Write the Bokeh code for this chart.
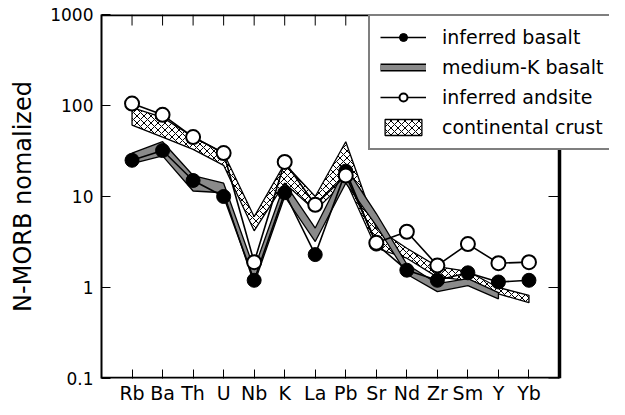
import math
from bokeh.plotting import figure
from bokeh.models import (Range1d, FixedTicker, Legend, LegendItem,
                          ColumnDataSource, CustomJSTickFormatter)
from bokeh.embed import file_html
from bokeh.resources import INLINE

elements = ["Rb", "Ba", "Th", "U", "Nb", "K", "La", "Pb", "Sr", "Nd", "Zr", "Sm", "Y", "Yb"]
basalt = [25, 32, 15, 10, 1.2, 11, 2.3, 19, 3.0, 1.55, 1.2, 1.45, 1.15, 1.2]
andesite = [105, 79, 45, 30, 1.9, 24, 8.1, 17, 3.1, 4.1, 1.75, 3.0, 1.85, 1.9]
# medium-K basalt band (Rb..Y)
medk_lo = [23, 28, 11.5, 11, 1.1, 10, 3.2, 14, 4.8, 1.4, 0.9, 1.05, 0.75]
medk_hi = [30, 40, 17, 14, 1.6, 14, 4.5, 21, 6.5, 1.8, 1.1, 1.25, 0.88]
# continental crust band (Rb..Yb)
crust_lo = [61, 45, 33, 22, 4.2, 14, 7, 15, 2.7, 2.1, 1.3, 1.2, 0.85, 0.68]
crust_hi = [95, 74, 45, 30, 6.0, 23, 10, 40, 4.5, 2.7, 1.7, 1.5, 1.0, 0.82]
y_ticks = [0.1, 1, 10, 100, 1000]

xi = list(range(1, len(elements) + 1))
X_MIN, X_EDGE = 0, 15          # visible plot box spans 0..15 on the category axis
Y_MIN, Y_MAX = 0.1, 1000
FRAME_W, BOX_W = 508, 458      # frame is wider than the box so the legend can overhang it
X_FRAME_MAX = X_EDGE * FRAME_W / BOX_W
FONT = "DejaVu Sans"

p = figure(width=609, height=406, y_axis_type="log",
           x_range=Range1d(X_MIN, X_FRAME_MAX), y_range=Range1d(Y_MIN, Y_MAX),
           output_backend="svg", toolbar_location=None,
           min_border_left=101, min_border_right=0, min_border_top=14, min_border_bottom=27)
p.xgrid.visible = False
p.ygrid.visible = False
p.outline_line_color = None
p.background_fill_color = "white"

# bands
nc = len(crust_lo)
crust_x = xi[:nc] + xi[:nc][::-1]
crust_y = crust_hi + crust_lo[::-1]
crust = p.patch(crust_x, crust_y, fill_color="white", line_color="black", line_width=1.3,
                hatch_pattern="diagonal_cross", hatch_scale=7, hatch_weight=1, hatch_color="black")

nm = len(medk_lo)
medk_x = xi[:nm] + xi[:nm][::-1]
medk_y = medk_hi + medk_lo[::-1]
p.patch(medk_x, medk_y, fill_color="#8a8a8a", line_color="black", line_width=1.3)

# series
b_src = ColumnDataSource(dict(x=xi, y=basalt))
a_src = ColumnDataSource(dict(x=xi, y=andesite))
bl = p.line("x", "y", source=b_src, line_color="black", line_width=1.6)
bs = p.scatter("x", "y", source=b_src, size=14, marker="circle", fill_color="black", line_color="black")
al = p.line("x", "y", source=a_src, line_color="black", line_width=1.6)
as_ = p.scatter("x", "y", source=a_src, size=14, marker="circle", fill_color="white",
                line_color="black", line_width=2)

# legend stand-ins for medium-K bar (no visible data)
nan_src = ColumnDataSource(dict(x=[float("nan")], y=[float("nan")]))
mk1 = p.line("x", "y", source=nan_src, line_color="black", line_width=8)
mk2 = p.line("x", "y", source=nan_src, line_color="#8a8a8a", line_width=5)

# plot box: top, right and bottom edges
p.segment(x0=[X_MIN, X_EDGE, X_MIN], y0=[Y_MAX, Y_MIN, Y_MIN],
          x1=[X_EDGE, X_EDGE, X_EDGE], y1=[Y_MAX, Y_MAX, Y_MIN],
          line_color="black", line_width=3.5)
# inward ticks on top and right edges
p.ray(x=xi, y=[Y_MAX] * len(xi), length=11, length_units="screen", angle=-math.pi / 2,
      line_color="black", line_width=1)
p.ray(x=[X_EDGE] * len(y_ticks), y=y_ticks, length=11, length_units="screen", angle=math.pi,
      line_color="black", line_width=1)

# axes
p.xaxis.ticker = FixedTicker(ticks=xi)
p.xaxis.major_label_overrides = {i: e for i, e in zip(xi, elements)}
p.xaxis.axis_line_color = None
p.yaxis.ticker = FixedTicker(ticks=y_ticks)
p.yaxis.formatter = CustomJSTickFormatter(code="return tick.toString();")
for ax in (p.xaxis[0], p.yaxis[0]):
    ax.axis_line_width = 2
    ax.major_tick_in = 9
    ax.major_tick_out = 0
    ax.major_tick_line_width = 1
    ax.minor_tick_in = 0
    ax.minor_tick_out = 0
    ax.major_label_text_font = FONT
    ax.major_label_text_color = "black"
p.xaxis.major_label_text_font_size = "19px"
p.xaxis.major_label_standoff = 3
p.yaxis.major_label_text_font_size = "17px"
p.yaxis.major_label_standoff = 8
p.yaxis.axis_label = "N-MORB nomalized"
p.yaxis.axis_label_text_font = FONT
p.yaxis.axis_label_text_font_size = "24px"
p.yaxis.axis_label_text_font_style = "normal"
p.yaxis.axis_label_text_color = "black"
p.yaxis.axis_label_standoff = 10

legend = Legend(items=[
    LegendItem(label="inferred basalt", renderers=[bl, bs]),
    LegendItem(label="medium-K basalt", renderers=[mk1, mk2]),
    LegendItem(label="inferred andsite", renderers=[al, as_]),
    LegendItem(label="continental crust", renderers=[crust]),
], location=(267, 228))
legend.border_line_color = "black"
legend.border_line_width = 2
legend.background_fill_color = "white"
legend.background_fill_alpha = 1
legend.label_text_font = FONT
legend.label_text_font_size = "19px"
legend.label_text_color = "black"
legend.glyph_width = 46
legend.glyph_height = 20
legend.label_standoff = 16
legend.padding = 10
legend.spacing = 8
legend.label_height = 22
legend.margin = 0
p.add_layout(legend, "center")

open("out.html", "w").write(file_html(p, INLINE))
